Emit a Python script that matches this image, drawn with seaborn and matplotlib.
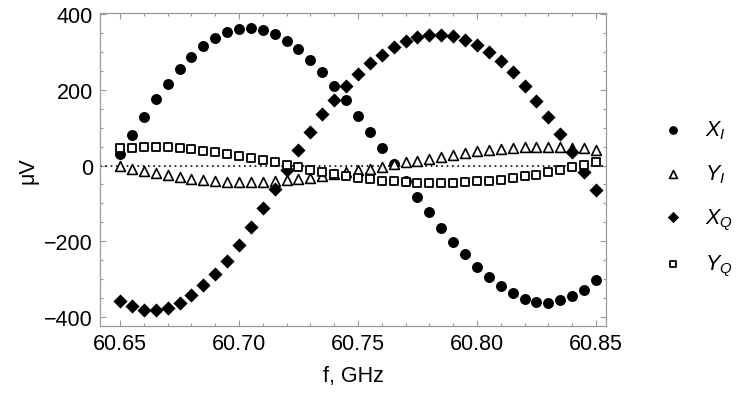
import numpy as np
import pandas as pd
import seaborn as sns
import matplotlib.pyplot as plt
from matplotlib.ticker import MultipleLocator

# frequency grid, GHz
freq = [60.650, 60.655, 60.660, 60.665, 60.670, 60.675, 60.680, 60.685, 60.690, 60.695,
        60.700, 60.705, 60.710, 60.715, 60.720, 60.725, 60.730, 60.735, 60.740, 60.745,
        60.750, 60.755, 60.760, 60.765, 60.770, 60.775, 60.780, 60.785, 60.790, 60.795,
        60.800, 60.805, 60.810, 60.815, 60.820, 60.825, 60.830, 60.835, 60.840, 60.845,
        60.850]

# signals, uV
x_i = [30, 80, 129, 176, 216, 256, 288, 315, 336, 352, 360, 363, 359, 348, 330, 307,
       279, 246, 210, 172, 130, 89, 47, 4, -40, -83, -124, -164, -201, -235, -268,
       -295, -319, -338, -353, -361, -363, -356, -345, -328, -303]
y_i = [-2, -8, -14, -21, -26, -31, -35, -39, -41, -43, -44, -44, -43, -42, -38, -35,
       -32, -28, -22, -17, -12, -8, -3, 3, 8, 11, 17, 23, 29, 34, 38, 40, 44, 47, 48,
       48, 48, 48, 47, 45, 41]
x_q = [-357, -372, -381, -381, -376, -363, -343, -317, -287, -252, -209, -163, -113,
       -63, -12, 40, 89, 135, 174, 210, 241, 271, 293, 312, 328, 339, 344, 345, 341,
       332, 319, 299, 275, 246, 210, 171, 128, 83, 36, -17, -64]
y_q = [45, 47, 48, 48, 48, 47, 43, 39, 35, 31, 26, 20, 14, 8, 2, -4, -11, -17, -22,
       -27, -32, -36, -40, -42, -44, -45, -46, -46, -45, -44, -42, -40, -37, -33, -28,
       -24, -18, -11, -5, 2, 8]

series_labels = ["$X_I$", "$Y_I$", "$X_Q$", "$Y_Q$"]

df = pd.DataFrame({"f": freq, "X_I": x_i, "Y_I": y_i, "X_Q": x_q, "Y_Q": y_q})

sns.set_style("ticks")
plt.rcParams["font.family"] = ["Liberation Sans", "DejaVu Sans"]
plt.rcParams["mathtext.fontset"] = "custom"
plt.rcParams["mathtext.it"] = "Liberation Sans:italic"
plt.rcParams["mathtext.rm"] = "Liberation Sans"
plt.rcParams["text.color"] = "black"
plt.rcParams["axes.labelcolor"] = "black"

fig = plt.figure(figsize=(7.47, 4.02), dpi=100)
ax = fig.add_axes([0.1339, 0.1866, 0.6773, 0.7786])

ax.axhline(0, color="black", lw=1.2, ls=(0, (1, 2.2)), zorder=1)

# styles per series
styles = {
    "X_I": dict(marker="o", s=62, color="black", edgecolor="black", linewidth=0),
    "Y_I": dict(marker="^", s=50, facecolor="white", edgecolor="black", linewidth=1.2),
    "X_Q": dict(marker="D", s=52, color="black", edgecolor="black", linewidth=0),
    "Y_Q": dict(marker="s", s=38, facecolor="white", edgecolor="black", linewidth=1.3),
}
for col, lab in zip(["X_I", "Y_I", "X_Q", "Y_Q"], series_labels):
    sns.scatterplot(data=df, x="f", y=col, ax=ax, label=lab, zorder=3, **styles[col])

ax.set_xlim(60.6416, 60.8542)
ax.set_ylim(-424, 403)
ax.xaxis.set_major_locator(MultipleLocator(0.05))
ax.xaxis.set_minor_locator(MultipleLocator(0.01))
ax.yaxis.set_major_locator(MultipleLocator(200))
ax.yaxis.set_minor_locator(MultipleLocator(50))
ax.xaxis.set_major_formatter(plt.FormatStrFormatter("%.2f"))

for sp in ax.spines.values():
    sp.set_visible(True)
    sp.set_color("#999999")
    sp.set_linewidth(0.9)
ax.tick_params(which="both", direction="in", top=True, right=True,
               color="#999999", labelcolor="black", width=0.8, labelsize=15.5, pad=5)
ax.tick_params(which="major", length=4.5)
ax.tick_params(which="minor", length=2.5)

ax.set_xlabel("f, GHz", fontsize=15.5, labelpad=8)
ax.set_ylabel("μV", fontsize=15.5, labelpad=4)

leg = ax.legend(loc="center left", bbox_to_anchor=(1.072, 0.408), frameon=False,
                fontsize=15.5, labelspacing=1.0, handletextpad=0.5,
                markerscale=0.8, borderaxespad=0)

fig.savefig("out.png", dpi=100)
